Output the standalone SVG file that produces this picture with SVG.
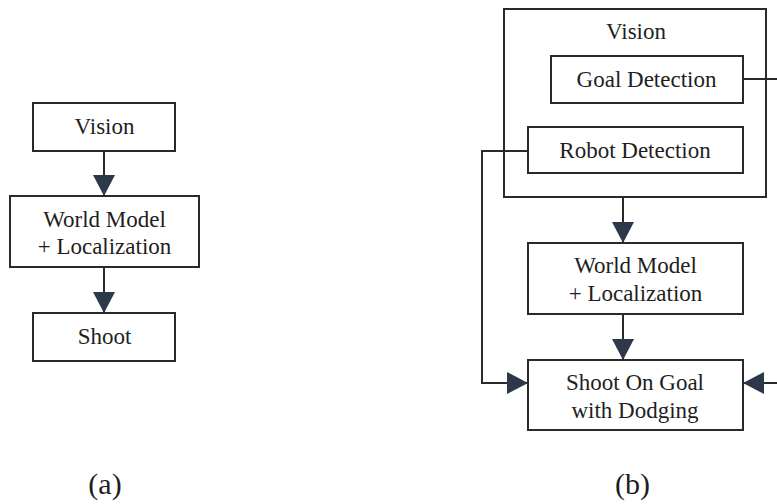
<svg xmlns="http://www.w3.org/2000/svg" width="777" height="504" viewBox="0 0 777 504">
<style>
.box{fill:none;stroke:#2a2a2a;stroke-width:2}
.t{font-family:"Liberation Serif","Times New Roman",serif;font-size:23px;fill:#1e1e1e;text-anchor:middle}
.lbl{font-family:"Liberation Serif","Times New Roman",serif;font-size:30px;fill:#1e1e1e;text-anchor:middle}
.c{fill:none;stroke:#2a2a2a;stroke-width:2}
</style>
<defs>
<marker id="ah" markerUnits="userSpaceOnUse" markerWidth="22" markerHeight="22" refX="21" refY="11" orient="auto" viewBox="0 0 22 22">
<path d="M0,0 L21,11 L0,22 z" fill="#2d3848"/>
</marker>
</defs>
<rect width="777" height="504" fill="#ffffff"/>
<g id="connectors">
<path class="c" d="M104,151 V196" marker-end="url(#ah)"/>
<path class="c" d="M104,267 V313" marker-end="url(#ah)"/>
<path class="c" d="M623,197 V243" marker-end="url(#ah)"/>
<path class="c" d="M623,314 V360" marker-end="url(#ah)"/>
<path class="c" d="M528,151 H482 V383 H528" marker-end="url(#ah)"/>
<path class="c" d="M743,79 H800 V383 H743" marker-end="url(#ah)"/>
</g>
<g id="a-vision">
<rect class="box" x="33" y="103" width="142" height="48"/>
<text class="t" x="104.5" y="134">Vision</text>
</g>
<g id="a-worldmodel">
<rect class="box" x="10" y="196" width="189" height="71"/>
<text class="t" x="104.5" y="227">World Model</text>
<text class="t" x="104.5" y="254">+ Localization</text>
</g>
<g id="a-shoot">
<rect class="box" x="33" y="313" width="142" height="48"/>
<text class="t" x="104.5" y="344">Shoot</text>
</g>
<g id="b-vision">
<rect class="box" x="504" y="9" width="262" height="188"/>
<text class="t" x="636" y="39">Vision</text>
</g>
<g id="b-goal">
<rect class="box" x="551" y="56" width="192" height="47"/>
<text class="t" x="646.5" y="87">Goal Detection</text>
</g>
<g id="b-robot">
<rect class="box" x="528" y="127" width="215" height="46"/>
<text class="t" x="635" y="158">Robot Detection</text>
</g>
<g id="b-worldmodel">
<rect class="box" x="528" y="243" width="215" height="71"/>
<text class="t" x="635.5" y="273">World Model</text>
<text class="t" x="635.5" y="301">+ Localization</text>
</g>
<g id="b-shoot">
<rect class="box" x="528" y="360" width="215" height="70"/>
<text class="t" x="635" y="390">Shoot On Goal</text>
<text class="t" x="635" y="418">with Dodging</text>
</g>
<g id="labels">
<text class="lbl" x="105" y="494">(a)</text>
<text class="lbl" x="632.5" y="494">(b)</text>
</g>
</svg>
